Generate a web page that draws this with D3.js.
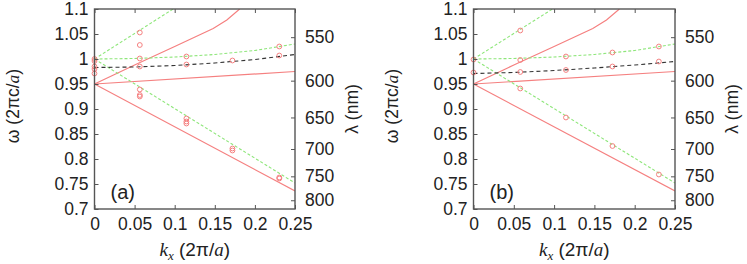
<!DOCTYPE html>
<html>
<head>
<meta charset="utf-8">
<script src="https://cdn.jsdelivr.net/npm/d3@7"></script>
<style>
  body { margin: 0; background: #fff; }
  svg text { font-family: "Liberation Sans", Arial, sans-serif; fill: #222; }
  .it { font-family: "Liberation Serif", "Times New Roman", serif; font-style: italic; }
</style>
</head>
<body>
<div id="chart"></div>
<script>
// ---- data ----
var xTicks = [0, 0.05, 0.1, 0.15, 0.2, 0.25];
var yTicks = [0.7, 0.75, 0.8, 0.85, 0.9, 0.95, 1, 1.05, 1.1];
var lambdaTicks = [550, 600, 650, 700, 750, 800];
var lambdaScale = 574; // lambda(nm) = 574 / omega

// model curves (same in both panels)
var redLow = [[0, 0.95], [0.25, 0.736]];
var redMid = [[0, 0.95], [0.25, 0.975]];
var redHigh = [[0, 0.95], [0.05, 0.988], [0.1, 1.025], [0.148, 1.061], [0.165, 1.078], [0.181, 1.1]];
var greenUp = [[0, 1.0], [0.098, 1.1]];
var greenMid = [[0, 1.0], [0.05, 1.001], [0.1, 1.004], [0.15, 1.009], [0.2, 1.017], [0.25, 1.03]];
var greenLow = [[0, 1.0], [0.125, 0.876], [0.25, 0.752]];

// black dashed curve for each panel
var blackA = [[0, 0.983], [0.05, 0.984], [0.1, 0.987], [0.15, 0.992], [0.2, 0.999], [0.25, 1.009]];
var blackB = [[0, 0.971], [0.05, 0.973], [0.1, 0.977], [0.15, 0.982], [0.2, 0.988], [0.25, 0.995]];

// simulated points (hollow circles)
var pointsA = [
  [0, 1.0], [0, 0.996], [0, 0.985], [0, 0.98], [0, 0.971],
  [0.0565, 1.053], [0.0565, 1.028], [0.0565, 1.001], [0.0565, 0.985], [0.0565, 0.939], [0.0565, 0.928], [0.0565, 0.925],
  [0.1146, 1.005], [0.1146, 0.989], [0.1146, 0.881], [0.1146, 0.875], [0.1146, 0.871],
  [0.172, 0.997], [0.172, 0.821], [0.172, 0.817],
  [0.2304, 1.025], [0.2304, 1.007], [0.2304, 0.763], [0.2304, 0.761]
];
var pointsB = [
  [0, 0.999], [0, 0.973],
  [0.058, 1.057], [0.058, 0.998], [0.058, 0.974], [0.058, 0.941],
  [0.1147, 1.005], [0.1147, 0.978], [0.1147, 0.883],
  [0.1724, 1.013], [0.1724, 0.985], [0.1724, 0.826],
  [0.23, 1.025], [0.23, 0.995], [0.23, 0.769]
];

var width = 747, height = 264;
var svg = d3.select('#chart').append('svg')
  .attr('width', width)
  .attr('height', height);

var red = '#f58080', green = '#8ee67a', black = '#333';

function drawPanel(id, left, right, black_line, points, tag) {
  var x = d3.scaleLinear().domain([0, 0.25]).range([left, right]);
  var y = d3.scaleLinear().domain([0.7, 1.1]).range([209, 9]);
  var g = svg.append('g');

  g.append('clipPath').attr('id', 'clip' + id)
    .append('rect')
    .attr('x', left).attr('y', 9)
    .attr('width', right - left).attr('height', 200);

  var line = d3.line().x(function (d) { return x(d[0]); }).y(function (d) { return y(d[1]); });
  var plot = g.append('g').attr('clip-path', 'url(#clip' + id + ')');

  [redLow, redMid, redHigh].forEach(function (c) {
    plot.append('path').attr('d', line(c)).attr('fill', 'none')
      .attr('stroke', red).attr('stroke-width', 1.2);
  });
  [greenUp, greenMid, greenLow].forEach(function (c) {
    plot.append('path').attr('d', line(c)).attr('fill', 'none')
      .attr('stroke', green).attr('stroke-width', 1.1).attr('stroke-dasharray', '3,2');
  });
  plot.append('path').attr('d', line(black_line)).attr('fill', 'none')
    .attr('stroke', black).attr('stroke-width', 1.1).attr('stroke-dasharray', '4,3');

  g.selectAll('circle.pt')
    .data(points)
    .enter()
    .append('circle')
    .attr('class', 'pt')
    .attr('cx', function (d) { return x(d[0]); })
    .attr('cy', function (d) { return y(d[1]); })
    .attr('r', 2.4)
    .attr('fill', 'none')
    .attr('stroke', red)
    .attr('stroke-width', 1);

  // axes with inward ticks
  var axB = g.append('g').attr('transform', 'translate(0,209)')
    .call(d3.axisBottom(x).tickValues(xTicks).tickSize(-4).tickPadding(9)
      .tickFormat(function (d) { return d === 0 ? '0' : String(d); }));
  var axT = g.append('g').attr('transform', 'translate(0,9)')
    .call(d3.axisTop(x).tickValues(xTicks).tickSize(-4).tickFormat(''));
  var axL = g.append('g').attr('transform', 'translate(' + left + ',0)')
    .call(d3.axisLeft(y).tickValues(yTicks).tickSize(-4).tickPadding(6)
      .tickFormat(function (d) { return String(d); }));
  var axR = g.append('g').attr('transform', 'translate(' + right + ',0)')
    .call(d3.axisRight(y).tickValues(lambdaTicks.map(function (l) { return lambdaScale / l; }))
      .tickSize(-4).tickPadding(10)
      .tickFormat(function (d) { return String(Math.round(lambdaScale / d)); }));

  [axB, axT, axL, axR].forEach(function (a) {
    a.select('.domain').remove();
    a.selectAll('line').attr('stroke', '#555');
    a.selectAll('text').style('font-size', '17.5px').attr('fill', '#222');
  });

  g.append('rect')
    .attr('x', left).attr('y', 9)
    .attr('width', right - left).attr('height', 200)
    .attr('fill', 'none').attr('stroke', '#555').attr('stroke-width', 1.4);

  // panel tag
  g.append('text').attr('x', left + 16).attr('y', 199)
    .style('font-size', '20px').text(tag);

  // axis titles
  var xt = g.append('text').attr('x', (left + right) / 2).attr('y', 256)
    .attr('text-anchor', 'middle').style('font-size', '19px');
  xt.append('tspan').attr('class', 'it').text('k');
  xt.append('tspan').attr('class', 'it').attr('dy', 4).style('font-size', '13px').text('x');
  xt.append('tspan').attr('dy', -4).text(' (2π/');
  xt.append('tspan').attr('class', 'it').text('a');
  xt.append('tspan').text(')');

  var yt = g.append('text')
    .attr('transform', 'translate(' + (left - 76) + ',106) rotate(-90)')
    .attr('text-anchor', 'middle').style('font-size', '17.5px');
  yt.append('tspan').text('ω (2πc/');
  yt.append('tspan').attr('class', 'it').text('a');
  yt.append('tspan').text(')');

  g.append('text')
    .attr('transform', 'translate(' + (right + 63) + ',109) rotate(-90)')
    .attr('text-anchor', 'middle').style('font-size', '17.5px')
    .text('λ (nm)');
}

drawPanel('a', 94.5, 295, blackA, pointsA, '(a)');
drawPanel('b', 473.5, 675, blackB, pointsB, '(b)');
</script>
</body>
</html>
